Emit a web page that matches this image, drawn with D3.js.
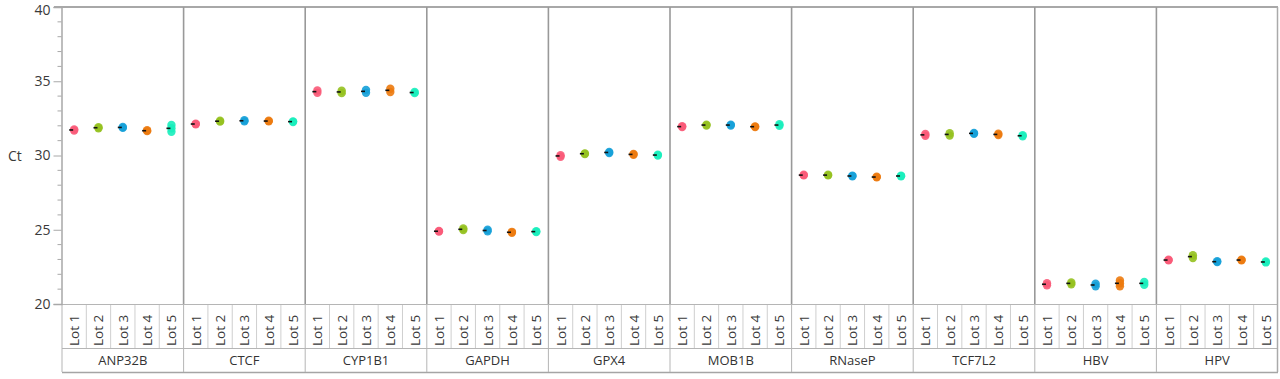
<!DOCTYPE html>
<html><head><meta charset="utf-8">
<script src="https://cdn.jsdelivr.net/npm/d3@7"></script>
<style>body{margin:0;background:#fff;}svg{display:block;font-family:"Open Sans","Noto Sans",sans-serif;}</style>
</head><body><svg id="c" width="1280" height="379"></svg>
<script>
const genes = ["ANP32B","CTCF","CYP1B1","GAPDH","GPX4","MOB1B","RNaseP","TCF7L2","HBV","HPV"];
const lots = ["Lot 1","Lot 2","Lot 3","Lot 4","Lot 5"];
const yTicks = [20,25,30,35,40];
const lotColors = ["#f95a78","#95c11f","#15a0d8","#ec7a0e","#19eebd"];
// replicate Ct values per lot
const ANP32B = [[31.68,31.76],[31.84,31.9],[31.86,31.92],[31.64,31.7],[31.6,31.84,32.05]];
const CTCF   = [[32.1,32.14],[32.28,32.34],[32.3,32.38],[32.3,32.34],[32.26,32.3]];
const CYP1B1 = [[34.22,34.38],[34.2,34.36],[34.22,34.42],[34.28,34.5],[34.2,34.28]];
const GAPDH  = [[24.88,24.92],[24.98,25.08],[24.9,25.0],[24.8,24.86],[24.85,24.9]];
const GPX4   = [[29.92,30.02],[30.1,30.14],[30.17,30.24],[30.05,30.1],[30.0,30.06]];
const MOB1B  = [[31.92,31.97],[32.02,32.08],[32.02,32.08],[31.92,31.96],[32.0,32.1]];
const RNaseP = [[28.66,28.7],[28.66,28.7],[28.6,28.64],[28.53,28.57],[28.6,28.64]];
const TCF7L2 = [[31.33,31.45],[31.34,31.5],[31.46,31.52],[31.38,31.46],[31.3,31.36]];
const HBV    = [[21.26,21.4],[21.33,21.45],[21.2,21.36],[21.2,21.4,21.58],[21.3,21.48]];
const HPV    = [[22.94,22.98],[23.1,23.28],[22.82,22.88],[22.94,22.98],[22.8,22.86]];
const geneData = [ANP32B,CTCF,CYP1B1,GAPDH,GPX4,MOB1B,RNaseP,TCF7L2,HBV,HPV];

const L=62, R=1278, T=7, B=304, LR=348, GR=372;
const svg = d3.select("#c");
const y = d3.scaleLinear().domain([20,40]).range([B,T]);
const xg = d3.scaleBand().domain(genes).range([L,R]);
const xl = d3.scaleBand().domain(lots).range([0,xg.bandwidth()]);

// lot row separators
genes.forEach(g=>{
  lots.slice(1).forEach(l=>{
    const xx = xg(g)+xl(l);
    svg.append("line").attr("x1",xx).attr("x2",xx).attr("y1",B).attr("y2",LR).attr("stroke","#cfcfcf").attr("stroke-width",1);
  });
});
// horizontal lines
svg.append("line").attr("x1",L).attr("x2",R).attr("y1",B+0.5).attr("y2",B+0.5).attr("stroke","#b5b5b5");
svg.append("line").attr("x1",L).attr("x2",R).attr("y1",LR+0.5).attr("y2",LR+0.5).attr("stroke","#b5b5b5");
svg.append("line").attr("x1",L).attr("x2",R).attr("y1",GR+0.5).attr("y2",GR+0.5).attr("stroke","#a5a5a5").attr("stroke-width",1.5);
svg.append("line").attr("x1",L-8).attr("x2",R).attr("y1",T).attr("y2",T).attr("stroke","#a8a8a8").attr("stroke-width",2);
// gene separators
genes.forEach((g,i)=>{
  if(i===0) return;
  const xx = xg(g);
  svg.append("line").attr("x1",xx).attr("x2",xx).attr("y1",T).attr("y2",B).attr("stroke","#999").attr("stroke-width",1.6);
  svg.append("line").attr("x1",xx).attr("x2",xx).attr("y1",B).attr("y2",GR).attr("stroke","#b5b5b5").attr("stroke-width",1);
});
svg.append("line").attr("x1",R-0.5).attr("x2",R-0.5).attr("y1",T).attr("y2",GR).attr("stroke","#aaa").attr("stroke-width",1.5);
svg.append("line").attr("x1",L).attr("x2",L).attr("y1",B).attr("y2",GR).attr("stroke","#b5b5b5");

// y axis
const ax = svg.append("g").attr("transform",`translate(${L-0.5},0)`)
  .call(d3.axisLeft(y).tickValues(yTicks).tickSize(8).tickPadding(3).tickFormat(d3.format("d")));
ax.select(".domain").attr("stroke","#a8a8a8").attr("stroke-width",1.5);
ax.selectAll(".tick line").attr("stroke","#a8a8a8");
ax.selectAll(".tick text").attr("font-size",14).attr("fill","#3a3a3a").attr("font-family","Open Sans, sans-serif");
ax.selectAll(".tick text").filter(d=>d===40).attr("dy","0.5em");
const minor = d3.range(20,41).filter(v=>v%5!==0);
ax.selectAll(".minor").data(minor).enter().append("line").attr("x1",-4).attr("x2",0)
  .attr("y1",d=>y(d)).attr("y2",d=>y(d)).attr("stroke","#a8a8a8");
svg.append("text").attr("x",8).attr("y",y(30)+5).attr("font-size",14).attr("fill","#3a3a3a").text("Ct");

// labels
genes.forEach(g=>{
  lots.forEach(l=>{
    const cx = xg(g)+xl(l)+xl.bandwidth()/2;
    svg.append("text").attr("transform",`translate(${cx+5},${B+42}) rotate(-90)`)
      .attr("font-size",13.5).attr("fill","#3a3a3a").text(l);
  });
  svg.append("text").attr("x",xg(g)+xg.bandwidth()/2).attr("y",LR+17).attr("text-anchor","middle")
    .attr("font-size",13).attr("fill","#333").text(g);
});

// points
genes.forEach((g,gi)=>{
  geneData[gi].forEach((reps,li)=>{
    const cx = xg(g)+xl(lots[li])+xl.bandwidth()/2;
    reps.forEach(v=>{
      svg.append("circle").attr("cx",cx).attr("cy",y(v)).attr("r",4.2).attr("fill",lotColors[li]).attr("opacity",0.9);
    });
    const m = d3.mean(reps);
    svg.append("line").attr("x1",cx-5).attr("x2",cx-1).attr("y1",y(m)).attr("y2",y(m)).attr("stroke","#111").attr("stroke-width",1.6);
  });
});
</script></body></html>
